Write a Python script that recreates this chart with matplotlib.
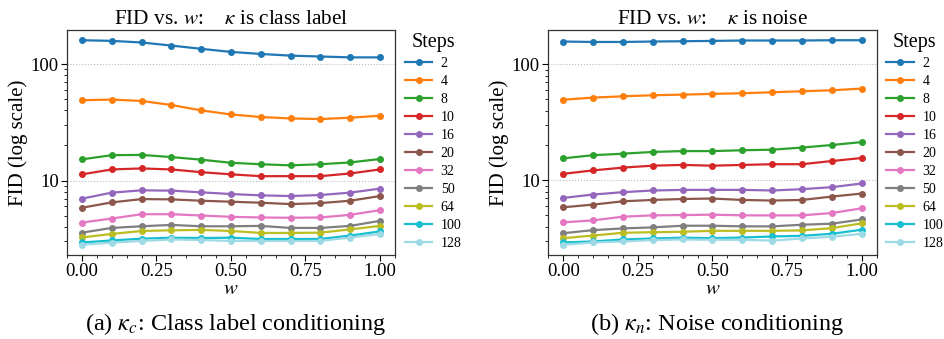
import numpy as np
import matplotlib
matplotlib.use("Agg")
import matplotlib.pyplot as plt
from matplotlib.ticker import MultipleLocator, LogLocator, NullFormatter, FixedLocator

plt.rcParams['font.family'] = ['Liberation Serif', 'DejaVu Serif']
plt.rcParams['mathtext.fontset'] = 'stix'

# guidance weights
w = [0.0, 0.1, 0.2, 0.3, 0.4, 0.5, 0.6, 0.7, 0.8, 0.9, 1.0]
steps = ['2', '4', '8', '10', '16', '20', '32', '50', '64', '100', '128']

# FID, kappa = class label
fid_class = [
    [160, 158, 153, 144, 135, 127, 122, 118, 116, 114, 114],
    [48.9, 49.5, 48.2, 44.5, 40.0, 36.9, 35.1, 34.1, 33.7, 34.6, 36.0],
    [15.2, 16.5, 16.6, 15.9, 15.1, 14.2, 13.8, 13.5, 13.8, 14.3, 15.3],
    [11.3, 12.45, 12.7, 12.45, 11.8, 11.3, 10.9, 10.9, 10.9, 11.5, 12.45],
    [6.99, 7.87, 8.24, 8.19, 7.92, 7.66, 7.46, 7.36, 7.51, 7.87, 8.53],
    [5.84, 6.49, 6.93, 6.89, 6.71, 6.58, 6.45, 6.28, 6.40, 6.71, 7.36],
    [4.36, 4.72, 5.14, 5.14, 5.01, 4.88, 4.82, 4.79, 4.82, 5.08, 5.57],
    [3.57, 3.92, 4.05, 4.16, 4.05, 4.05, 4.08, 3.92, 3.92, 4.08, 4.51],
    [3.25, 3.48, 3.69, 3.74, 3.77, 3.69, 3.55, 3.55, 3.57, 3.81, 4.08],
    [2.94, 3.06, 3.17, 3.23, 3.21, 3.23, 3.15, 3.15, 3.15, 3.37, 3.66],
    [2.81, 2.93, 3.03, 3.12, 3.09, 3.03, 3.03, 3.03, 3.03, 3.24, 3.48],
]

# FID, kappa = noise
fid_noise = [
    [157.4, 156, 156, 157.4, 158.3, 159.3, 160.6, 160.6, 160.6, 161.5, 161.5],
    [49.6, 51.7, 53.1, 54.2, 54.9, 55.7, 56.4, 57.5, 58.7, 59.8, 61.9],
    [15.5, 16.5, 17.0, 17.6, 17.9, 17.9, 18.2, 18.4, 19.2, 20.2, 21.4],
    [11.4, 12.2, 12.9, 13.4, 13.6, 13.4, 13.6, 13.8, 13.8, 14.7, 15.6],
    [7.07, 7.56, 7.92, 8.19, 8.29, 8.29, 8.29, 8.19, 8.41, 8.75, 9.41],
    [5.87, 6.19, 6.61, 6.79, 6.92, 6.98, 6.79, 6.71, 6.79, 7.26, 7.71],
    [4.35, 4.53, 4.87, 5.00, 5.03, 5.07, 5.00, 5.00, 5.00, 5.24, 5.75],
    [3.51, 3.73, 3.86, 3.94, 4.07, 4.07, 4.02, 4.02, 4.15, 4.24, 4.61],
    [3.18, 3.35, 3.54, 3.58, 3.61, 3.68, 3.68, 3.68, 3.71, 3.88, 4.27],
    [2.92, 2.98, 3.10, 3.16, 3.21, 3.18, 3.22, 3.29, 3.33, 3.47, 3.76],
    [2.79, 2.92, 2.98, 3.06, 3.10, 3.08, 3.08, 3.03, 3.16, 3.27, 3.47],
]

colors = list(plt.get_cmap('tab10').colors) + ['#9edae5']

titles = [r'FID vs. $w$:    $\kappa$ is class label', r'FID vs. $w$:    $\kappa$ is noise']
captions = [r'(a) $\kappa_c$: Class label conditioning', r'(b) $\kappa_n$: Noise conditioning']

fig = plt.figure(figsize=(9.45, 3.39), dpi=100)
ax1 = fig.add_axes([0.0709, 0.2478, 0.347, 0.6637])
ax2 = fig.add_axes([0.5802, 0.2478, 0.3475, 0.6637])

for ax, data, title, cap in zip([ax1, ax2], [fid_class, fid_noise], titles, captions):
    for i, ys in enumerate(data):
        ax.plot(w, ys, marker='o', markersize=4, linewidth=1.6,
                color=colors[i], label=steps[i])
    ax.set_yscale('log')
    ax.set_xlim(-0.05, 1.05)
    ax.yaxis.set_major_locator(FixedLocator([10, 100]))
    ax.yaxis.set_major_formatter(matplotlib.ticker.FixedFormatter(['10', '100']))
    ax.yaxis.set_minor_locator(LogLocator(base=10, subs=np.arange(2, 10)))
    ax.yaxis.set_minor_formatter(NullFormatter())
    ax.xaxis.set_major_locator(MultipleLocator(0.25))
    ax.xaxis.set_minor_locator(MultipleLocator(0.05))
    ax.xaxis.set_major_formatter(matplotlib.ticker.FormatStrFormatter('%.2f'))
    ax.tick_params(axis='both', which='major', labelsize=13.5, length=4, width=0.8, pad=2)
    ax.tick_params(axis='both', which='minor', length=2.5, width=0.6)
    ax.grid(True, axis='y', which='major', linestyle=':', color='#bbbbbb', linewidth=0.8)
    for s in ax.spines.values():
        s.set_color('#333333')
        s.set_linewidth(0.9)
    ax.set_title(title, fontsize=15.3, pad=4)
    ax.set_xlabel(r'$w$', fontsize=15, labelpad=0)
    ax.set_ylabel('FID (log scale)', fontsize=15, labelpad=2)
    leg = ax.legend(title='Steps', loc='upper left', bbox_to_anchor=(1.0, 1.03),
                    frameon=False, fontsize=10, title_fontsize=14.5,
                    handlelength=2.0, labelspacing=0.36, handletextpad=0.6,
                    borderaxespad=0.3)
    pos = ax.get_position()
    fig.text(pos.x0 + pos.width / 2 + 0.005, 0.045, cap, ha='center', va='center', fontsize=17.5)

plt.savefig('out.png', dpi=100)
